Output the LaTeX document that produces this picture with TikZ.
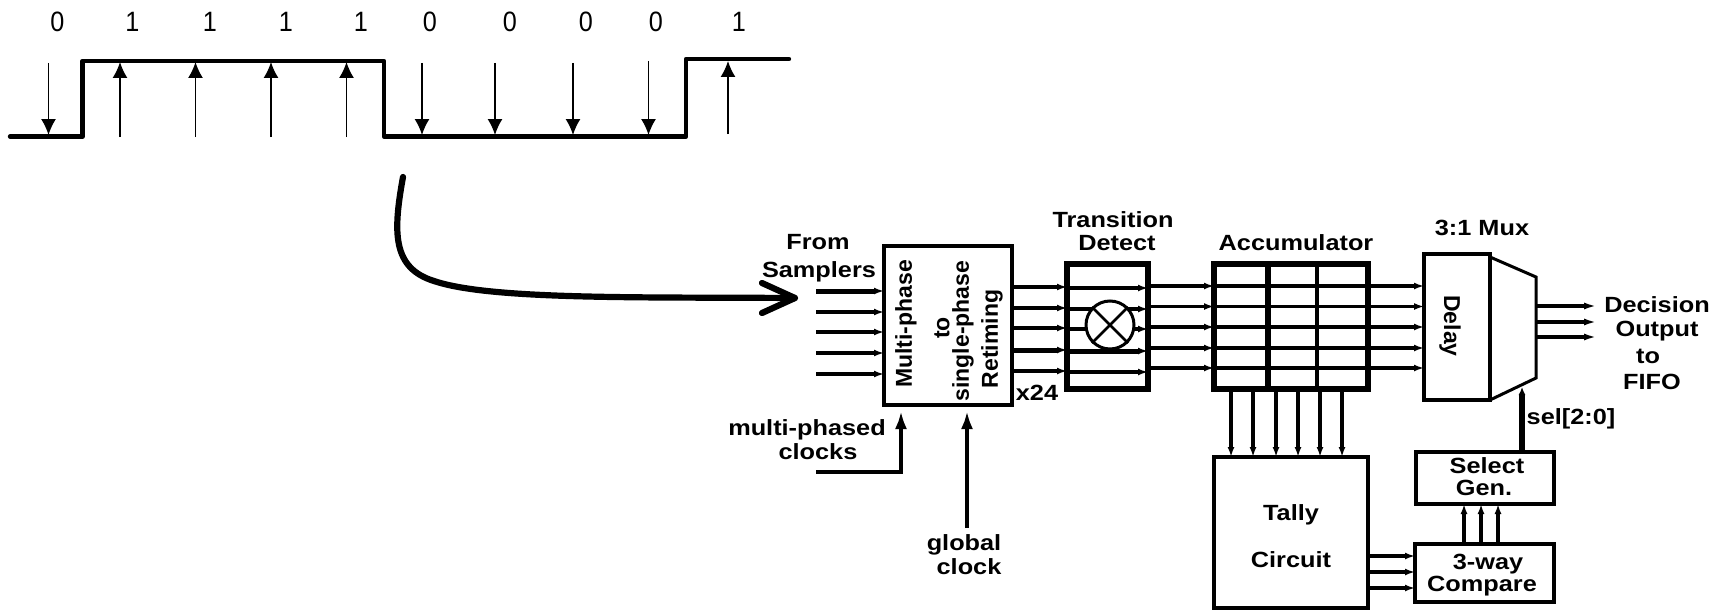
\documentclass[tikz,border=0pt]{standalone}
\usepackage{fontspec}
\usetikzlibrary{arrows.meta}
\setmainfont{Liberation Sans}
\newfontfamily\lblfont[FakeStretch=1.15]{Liberation Sans}
\newfontfamily\bitfont[FakeStretch=0.9]{Liberation Sans}
\tikzset{
  x=1pt,y=-1pt,
  wave/.style={line width=4.4pt,line cap=round,line join=round},
  samp/.style={line width=1.5pt,-{Latex[length=16pt,width=15pt]}},
  bus/.style={line width=3.6pt,-{Latex[length=10pt,width=7pt]}},
  busthick/.style={line width=5pt,-{Latex[length=10pt,width=7pt]}},
  clk/.style={line width=3.8pt,-{Latex[length=18pt,width=12pt]}},
  box/.style={draw,line width=4pt,inner sep=0pt,outer sep=0pt,fill=white},
  grid/.style={line width=3.8pt},
  lab/.style={font=\lblfont\bfseries\fontsize{22}{24}\selectfont,inner sep=0pt,text=black},
  vlab/.style={font=\bfseries\fontsize{23}{25}\selectfont,inner sep=0pt,text=black},
  bit/.style={font=\bitfont\fontsize{28}{30}\selectfont,inner sep=0pt,text=black},
  big/.style={line width=6.2pt,line cap=round,line join=round},
}
\begin{document}
\begin{tikzpicture}
\path[fill=white] (0,0) rectangle (1725,610);
\useasboundingbox (0,0) rectangle (1725,610);
% bit labels
\foreach \n/\px/\t in {b0/57.5/0,b1/132.5/1,b2/210/1,b3/286/1,b4/361/1,b5/430/0,b6/510/0,b7/586/0,b8/656/0,b9/739/1}
  \node[bit] (\n) at (\px,22) {\t};
% waveform
\coordinate (w0) at (10,136.5);
\coordinate (w1) at (82.5,136.5);
\coordinate (w2) at (82.5,61);
\coordinate (w3) at (384,61);
\coordinate (w4) at (384,136.5);
\coordinate (w5) at (686,136.5);
\coordinate (w6) at (686,59);
\coordinate (w7) at (789,59);
\draw[wave] (w0) -- (w1) -- (w2) -- (w3) -- (w4) -- (w5) -- (w6) -- (w7);
% sampling arrows
\foreach \px/\ya/\yb in {48.5/63/135,422/63/135,495/63/135,573/63/135,648.5/61/135,120/137/62,195.5/137/62,271/137/62,346.5/137/62,728/134/61}{
  \coordinate (sa) at (\px,\ya);
  \coordinate (sb) at (\px,\yb);
  \draw[samp] (sa) -- (sb);
}
% large curved arrow
\coordinate (c0) at (403,177);
\coordinate (c1) at (795,298);
\coordinate (c2) at (762,283);
\coordinate (c3) at (762,313);
\draw[big] (c0) .. controls (393,232) and (392,268) .. (434,281)
  .. controls (490,300) and (640,297) .. (c1);
\draw[big] (c2) -- (c1) -- (c3);
% boxes
\node[box,minimum width=128pt,minimum height=159pt] (ret) at (948,325.5) {};
\node[box,line width=5.2pt,minimum width=81pt,minimum height=125pt] (td) at (1107.5,326.5) {};
\node[box,line width=5.2pt,minimum width=154pt,minimum height=125pt] (acc) at (1291,326.5) {};
\node[box,line width=4pt,minimum width=66pt,minimum height=146pt] (dly) at (1457,327) {};
\node[box,line width=4.6pt,minimum width=154pt,minimum height=151pt] (tal) at (1291,532.5) {};
\node[box,minimum width=138pt,minimum height=52pt] (sg) at (1485,478) {};
\node[box,minimum width=139pt,minimum height=58pt] (cmp) at (1484.5,573) {};
% mux outline
\coordinate (m0) at (1490,257);
\coordinate (m1) at (1536,277);
\coordinate (m2) at (1536,378);
\coordinate (m3) at (1490,400);
\draw[line width=3pt,line join=miter] (m0) -- (m1) -- (m2) -- (m3);
% sampler inputs
\foreach \i/\py/\st in {1/291/busthick,2/312/bus,3/332/bus,4/353/bus,5/374/bus}{
  \coordinate (s\i) at (816,\py);
  \draw[\st] (s\i) -- (s\i -| ret.west);
}
% retimer to transition detect
\foreach \i/\py/\st in {1/287/bus,2/308/bus,3/328/bus,4/350/busthick,5/371/bus}{
  \coordinate (r\i) at (1012,\py);
  \draw[\st] (r\i -| ret.east) -- (r\i -| td.west);
}
% through transition detect
\foreach \i/\py/\st in {1/288/bus,2/309/bus,3/329/bus,4/351/busthick,5/372/bus}{
  \coordinate (t\i) at (1067,\py);
  \draw[\st] (t\i -| td.west) -- (t\i -| td.east);
}
% xor symbol
\node[draw,circle,fill=white,line width=3pt,minimum size=48pt,inner sep=0pt] (xr) at (1110,325) {};
\draw[line width=2.6pt] (xr.north west) -- (xr.south east);
\draw[line width=2.6pt] (xr.north east) -- (xr.south west);
% transition detect to accumulator, accumulator grid, accumulator to delay
\foreach \i/\py in {1/286,2/306.5,3/327,4/348,5/368}{
  \coordinate (a\i) at (1214,\py);
  \draw[bus] (a\i -| td.east) -- (a\i -| acc.west);
  \draw[grid] (a\i -| acc.west) -- (a\i -| acc.east);
  \draw[bus] (a\i -| acc.east) -- (a\i -| dly.west);
}
\coordinate (v1) at (1268,300);
\coordinate (v2) at (1317,300);
\draw[line width=5.4pt] (v1 |- acc.north) -- (v1 |- acc.south);
\draw[line width=4.2pt] (v2 |- acc.north) -- (v2 |- acc.south);
% accumulator to tally
\foreach \i/\px in {1/1231,2/1253,3/1276,4/1298,5/1320,6/1342}{
  \coordinate (k\i) at (\px,420);
  \draw[bus] (k\i |- acc.south) -- (k\i |- tal.north);
}
% tally to compare
\foreach \i/\py in {1/556,2/572,3/588}{
  \coordinate (q\i) at (1390,\py);
  \draw[bus] (q\i -| tal.east) -- (q\i -| cmp.west);
}
% compare to select gen
\foreach \i/\px in {1/1464,2/1481,3/1498}{
  \coordinate (p\i) at (\px,525);
  \draw[bus] (p\i |- cmp.north) -- (p\i |- sg.south);
}
% select to mux
\coordinate (se) at (1522,387);
\draw[line width=5.4pt,-{Latex[length=8pt,width=7pt]}] (se |- sg.north) -- (se);
% mux outputs
\foreach \i/\py in {1/306,2/322,3/337}{
  \coordinate (oa\i) at (1536,\py);
  \coordinate (ob\i) at (1597,\py);
  \draw[line width=3.6pt,-{Latex[length=13pt,width=7pt]}] (oa\i) -- (ob\i);
}
% clock arrows
\coordinate (mc0) at (816,472);
\coordinate (mc1) at (901,472);
\coordinate (mc2) at (901,411);
\draw[clk] (mc0) -- (mc1) -- (mc2);
\coordinate (gc0) at (967,528);
\coordinate (gc1) at (967,411);
\draw[clk] (gc0) -- (gc1);
% labels
\node[lab] (l1) at (818,242) {From};
\node[lab] (l2) at (819,272) {Samplers};
\node[lab] (l3) at (807,430) {multi-phased};
\node[lab] (l4) at (818,452) {clocks};
\node[lab] (l5) at (964,545) {global};
\node[lab] (l6) at (969,567) {clock};
\node[lab] (l7) at (1037,393) {x24};
\node[vlab,rotate=90] (l8) at (906,324) {Multi-phase};
\node[vlab,rotate=90] (l9) at (942,328) {to};
\node[vlab,rotate=90] (l10) at (963,331) {single-phase};
\node[vlab,rotate=90] (l11) at (992,339) {Retiming};
\node[lab] (l12) at (1113,220) {Transition};
\node[lab] (l13) at (1117,243) {Detect};
\node[lab] (l14) at (1296,243) {Accumulator};
\node[lab] (l15) at (1482,228) {3:1 Mux};
\node[vlab,rotate=-90] (l16) at (1450,326) {Delay};
\node[lab] (l17) at (1657,305) {Decision};
\node[lab] (l18) at (1657,331) {Output};
\node[lab] (l19) at (1648,356) {to};
\node[lab] (l20) at (1652,382) {FIFO};
\node[lab] (l21) at (1571,419) {sel[2:0]};
\node[lab] (l22) at (1487,466) {Select};
\node[lab] (l23) at (1484,488) {Gen.};
\node[lab] (l24) at (1488,564) {3-way};
\node[lab] (l25) at (1482,586) {Compare};
\node[lab] (l26) at (1291,515) {Tally};
\node[lab] (l27) at (1291,560) {Circuit};
\end{tikzpicture}
\end{document}
